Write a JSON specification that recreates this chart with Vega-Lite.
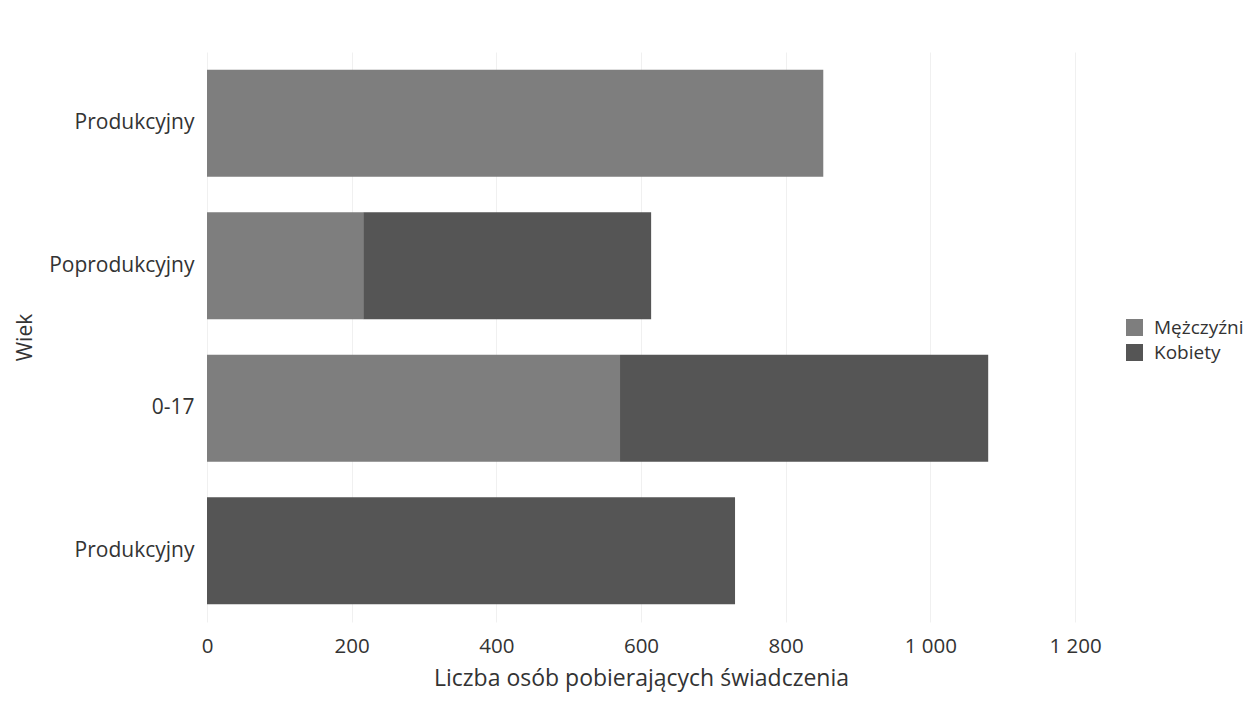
{
  "$schema": "https://vega.github.io/schema/vega-lite/v6.json",
  "autosize": {"type": "none"},
  "padding": {"left": 207, "top": 52, "right": 180, "bottom": 79},
  "width": 868,
  "height": 570,
  "background": "white",
  "config": {
    "font": "Open Sans",
    "view": {"stroke": null}
  },
  "data": {
    "values": [
      {"key": "a", "wiek": "Produkcyjny", "plec": "Mężczyźni", "ord": 1, "liczba": 852},
      {"key": "b", "wiek": "Poprodukcyjny", "plec": "Mężczyźni", "ord": 1, "liczba": 216},
      {"key": "b", "wiek": "Poprodukcyjny", "plec": "Kobiety", "ord": 2, "liczba": 398},
      {"key": "c", "wiek": "0-17", "plec": "Mężczyźni", "ord": 1, "liczba": 571},
      {"key": "c", "wiek": "0-17", "plec": "Kobiety", "ord": 2, "liczba": 509},
      {"key": "d", "wiek": "Produkcyjny", "plec": "Kobiety", "ord": 2, "liczba": 730}
    ]
  },
  "mark": {"type": "bar"},
  "encoding": {
    "y": {
      "field": "key",
      "type": "nominal",
      "sort": ["a", "b", "c", "d"],
      "scale": {"paddingInner": 0.25, "paddingOuter": 0.125},
      "axis": {
        "title": "Wiek",
        "titleFontSize": 21,
        "titleFontWeight": "normal",
        "titleColor": "#333",
        "titlePadding": 13,
        "labelExpr": "{'a':'Produkcyjny','b':'Poprodukcyjny','c':'0-17','d':'Produkcyjny'}[datum.value]",
        "labelFontSize": 21,
        "labelColor": "#333",
        "labelPadding": 13,
        "ticks": false,
        "domain": false
      }
    },
    "x": {
      "field": "liczba",
      "type": "quantitative",
      "stack": "zero",
      "scale": {"domain": [0, 1200]},
      "axis": {
        "title": "Liczba osób pobierających świadczenia",
        "titleFontSize": 23,
        "titleFontWeight": "normal",
        "titleColor": "#333",
        "titlePadding": 11,
        "values": [0, 200, 400, 600, 800, 1000, 1200],
        "labelExpr": "replace(format(datum.value, ','), ',', ' ')",
        "labelFlush": false,
        "labelFontSize": 20.5,
        "labelColor": "#333",
        "labelPadding": 14,
        "ticks": false,
        "domain": false,
        "grid": true,
        "gridColor": "#f0f0f0"
      }
    },
    "color": {
      "field": "plec",
      "type": "nominal",
      "scale": {"domain": ["Mężczyźni", "Kobiety"], "range": ["#7e7e7e", "#555555"]},
      "legend": {
        "title": null,
        "orient": "none",
        "legendX": 918,
        "legendY": 266,
        "symbolType": "square",
        "symbolSize": 289,
        "symbolStrokeWidth": 0,
        "labelFontSize": 19,
        "labelColor": "#333",
        "labelOffset": 10,
        "rowPadding": 5
      }
    },
    "order": {"field": "ord", "type": "quantitative"}
  }
}
